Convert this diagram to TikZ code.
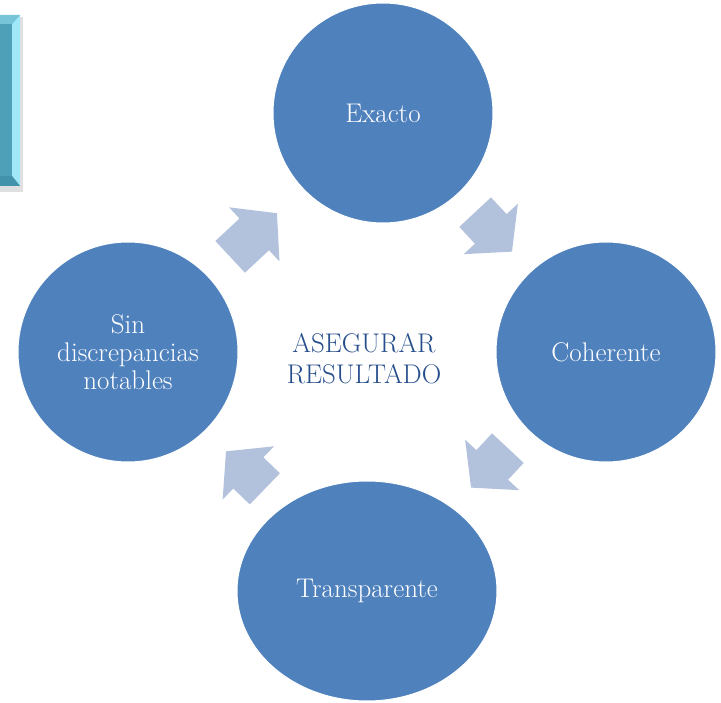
\documentclass[tikz,border=0pt]{standalone}
\usepackage{tikz}
\usetikzlibrary{shapes.geometric,shapes.arrows}
\definecolor{cycblue}{RGB}{79,129,189}
\definecolor{arrblue}{RGB}{179,194,220}
\definecolor{txtblue}{RGB}{38,78,140}
\definecolor{bevmid}{RGB}{78,160,185}
\definecolor{bevlight}{RGB}{160,232,248}
\definecolor{bevdark}{RGB}{66,146,172}

\begin{document}
\begin{tikzpicture}[x=1pt,y=-1pt,
 cyc/.style={circle, fill=cycblue, draw=white, line width=1pt, minimum size=220pt, inner sep=0pt,
   text=white, align=center, font=\fontsize{27}{28}\selectfont},
 blockarrow/.style={single arrow, fill=arrblue, inner xsep=0pt, inner ysep=21pt, minimum width=74pt,
   single arrow head extend=15pt, single arrow tip angle=100, anchor=tail}]
\useasboundingbox (0,0) rectangle (721,703);

% bevelled box, cut at the left edge
\fill[black,opacity=0.12] (-5,17) rectangle (23,192);
\fill[bevmid] (-5,15) rectangle (20,186);
\fill[bevlight] (20,15) -- (20,186) -- (12,176) -- (12,24) -- cycle;
\fill[bevdark] (-5,186) -- (20,186) -- (12,176) -- (-5,176) -- cycle;
\fill[bevlight!50!bevmid] (-5,15) -- (20,15) -- (12,24) -- (-5,24) -- cycle;

% cycle
\node[cyc] (exacto) at (383,113) {Exacto};
\node[cyc] (coherente) at (606,352) {Coherente};
\node[cyc, ellipse, minimum width=260pt, minimum height=220pt] (transp) at (367,591) {Transparente};
\node[cyc] (sin) at (128,352) {Sin\\discrepancias\\notables};
\node[text=txtblue, align=center, font=\fontsize{27}{31}\selectfont] (centro) at (364,359) {ASEGURAR\\RESULTADO};

\node[blockarrow, minimum height=64pt, rotate=43] (a1) at (230,257) {};
\node[blockarrow, minimum height=54pt, rotate=-47] (a2) at (475,212) {};
\node[blockarrow, minimum height=54pt, rotate=-133] (a3) at (508,448) {};
\node[blockarrow, minimum height=54pt, rotate=136] (a4) at (265,489) {};
\end{tikzpicture}
\end{document}
